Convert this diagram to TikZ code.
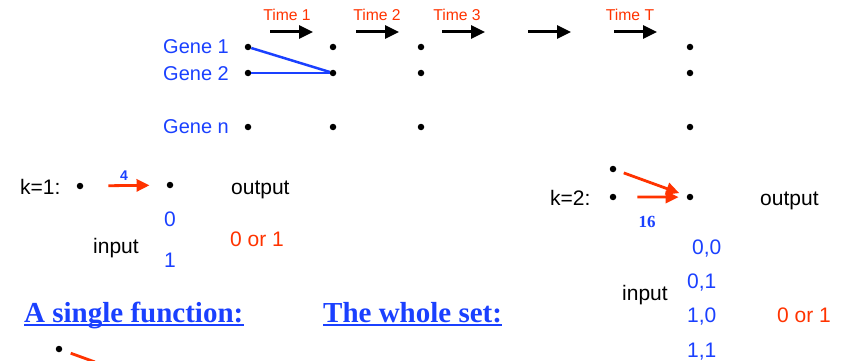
\documentclass[tikz,border=0pt]{standalone}
\usepackage{fontspec}
\setmainfont{Liberation Sans}
\newfontfamily\headfont{Liberation Serif}
\usetikzlibrary{arrows.meta}
\definecolor{hotred}{RGB}{255,51,0}
\definecolor{genblue}{RGB}{26,64,255}

\begin{document}
\begin{tikzpicture}[x=1pt, y=-1pt, every node/.style={inner sep=0pt}, >={Triangle[length=13pt,width=12pt]}]

\tikzstyle{dot}=[circle, fill=black, minimum size=6.5pt]
\tikzstyle{lbl}=[font=\fontsize{21}{25}\selectfont, anchor=base west]
\tikzstyle{genelbl}=[font=\fontsize{20}{24}\selectfont, text=genblue, anchor=base west]
\tikzstyle{timelbl}=[font=\fontsize{15.7}{18}\selectfont, text=hotred, anchor=base]
\tikzstyle{weight}=[font=\headfont\bfseries\fontsize{17}{19}\selectfont, text=genblue, anchor=base]
\tikzstyle{head}=[font=\headfont\bfseries\fontsize{29}{33}\selectfont, text=genblue, anchor=base west]
\tikzstyle{timearrow}=[-{Triangle[length=14pt,width=13pt]}, line width=3pt]
\tikzstyle{redarrow}=[->, hotred, line width=2.8pt]

\useasboundingbox (0,0) rectangle (843,361);

\foreach \name/\x/\txt in {time1/287/Time 1, time2/377/Time 2, time3/457/Time 3, timeT/630/Time T}
   \node[timelbl] (\name) at (\x,21) {\txt};

\foreach \i/\x in {1/270,2/356,3/442,4/528,5/614}{
   \coordinate (ta\i) at (\x,32);
   \coordinate (tb\i) at (\x+43,32);
   \draw[timearrow] (ta\i) -- (tb\i);
}

\foreach \c/\x in {1/248,2/333,3/421,4/690}
   \foreach \r/\y in {1/47,2/73,3/127}
      \node[dot] (g\c\r) at (\x,\y) {};

\node[genelbl] (gene1) at (163,53) {Gene 1};
\node[genelbl] (gene2) at (163,81) {Gene 2};
\node[genelbl] (genen) at (163,133) {Gene n};

\draw[genblue, line width=2.5pt] (g11) -- (g22);
\draw[genblue, line width=2.5pt] (g12) -- (g22);

% k=1
\node[lbl] (k1) at (20,194) {k=1:};
\node[dot] (k1in) at (80,186) {};
\node[dot] (k1out) at (170,185) {};
\draw[redarrow, shorten <=25pt, shorten >=17pt] ([yshift=-2pt]k1in) -- ([yshift=-2pt]k1out);
\node[font=\bfseries\fontsize{14}{16}\selectfont, text=genblue, anchor=base] (w4) at (124,180) {4};
\node[lbl] (out1) at (231,194) {output};
\node[lbl, anchor=base, text=genblue] (in0) at (170,226) {0};
\node[lbl, anchor=base, text=genblue] (in1) at (170,267) {1};
\node[lbl] (inp1) at (93,253) {input};
\node[lbl, text=hotred] (or1) at (230,246) {0 or 1};

% k=2
\node[lbl] (k2) at (550,205) {k=2:};
\node[dot] (k2a) at (613,169) {};
\node[dot] (k2b) at (613,197) {};
\node[dot] (k2out) at (690,197) {};
\draw[redarrow, shorten <=8pt, shorten >=8pt] (k2a) -- (k2out);
\draw[redarrow, shorten <=21pt, shorten >=8pt] ([yshift=-3pt]k2b) -- ([yshift=-3pt]k2out);
\node[weight] (w16) at (647,227) {16};
\node[lbl] (out2) at (760,205) {output};
\node[lbl, text=genblue] (in00) at (692,254) {0,0};
\node[lbl, text=genblue] (in01) at (687,288) {0,1};
\node[lbl] (inp2) at (622,300) {input};
\node[lbl, text=genblue] (in10) at (687,322) {1,0};
\node[lbl, text=hotred] (or2) at (777,322) {0 or 1};
\node[lbl, text=genblue] (in11) at (687,357) {1,1};

\node[head] (hsingle) at (24,322) {A single function:};
\node[head] (hwhole) at (323,322) {The whole set:};
\draw[genblue, line width=1.5pt] ([yshift=-3pt]hsingle.base west) -- ([yshift=-3pt]hsingle.base east);
\draw[genblue, line width=1.5pt] ([yshift=-3pt]hwhole.base west) -- ([yshift=-3pt]hwhole.base east);

\node[dot] (fin) at (59,349) {};
\coordinate (fcut) at (95,362);
\draw[hotred, line width=2.8pt, shorten <=9pt] (fin) -- (fcut);

\end{tikzpicture}
\end{document}
